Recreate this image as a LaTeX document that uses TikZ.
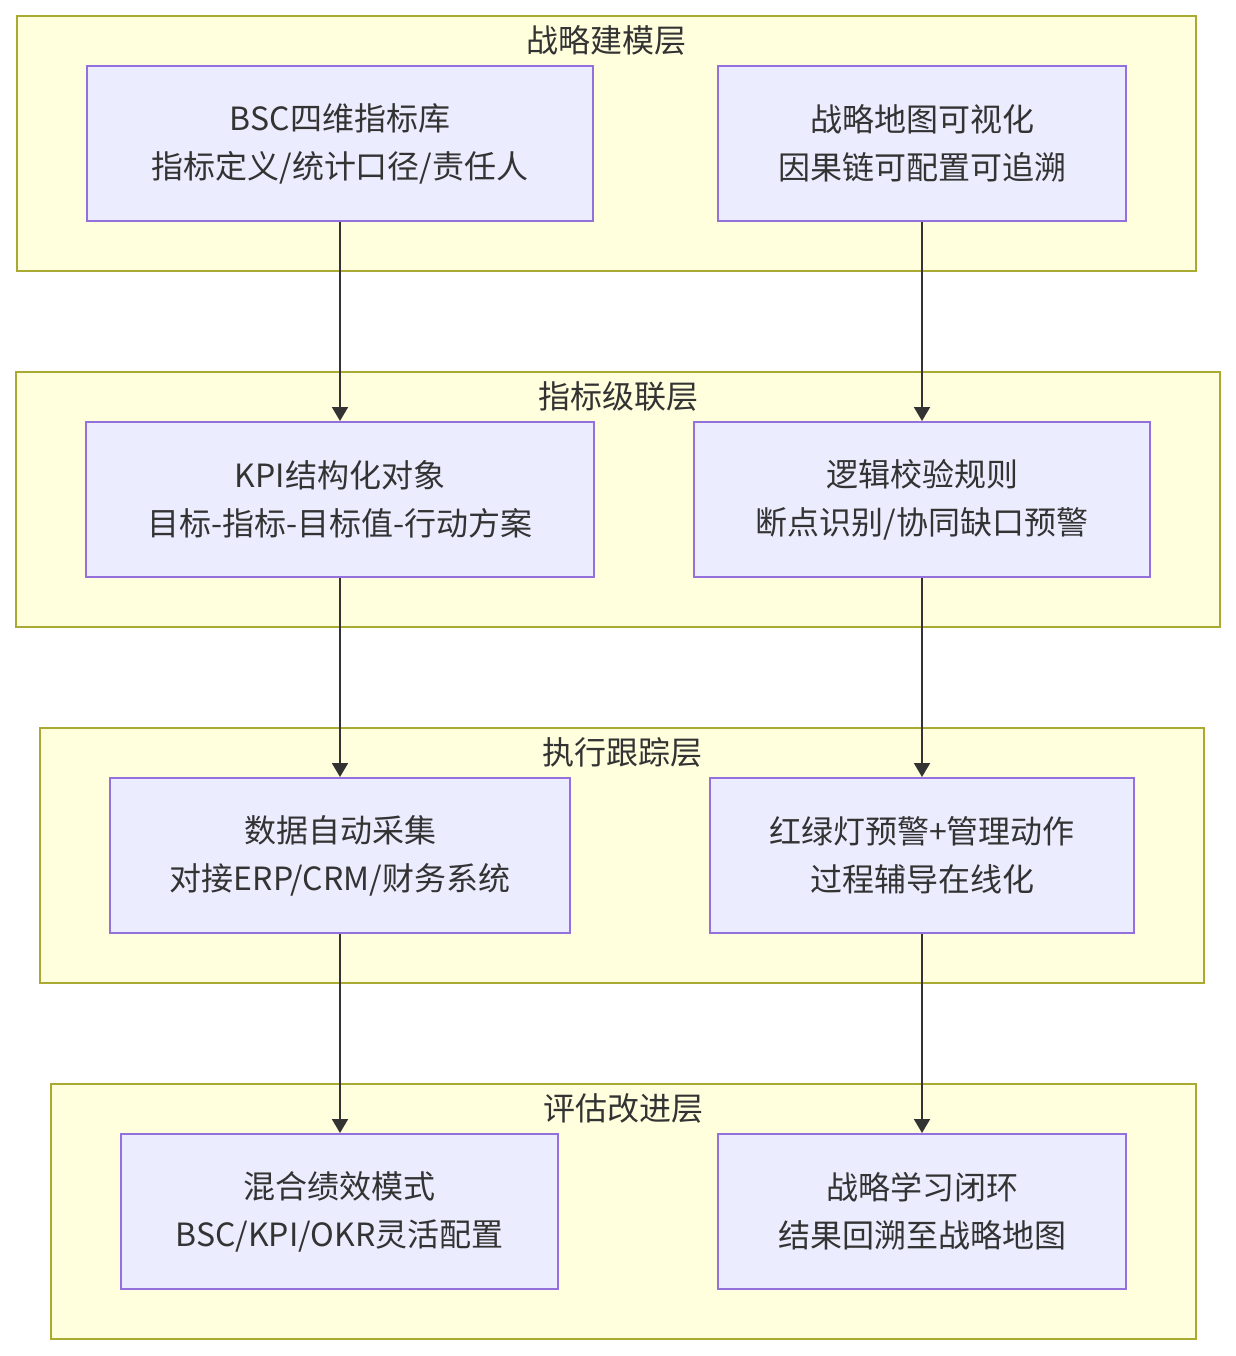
\documentclass[tikz,border=0pt]{standalone}
\usepackage{fontspec}
\setmainfont{Noto Sans CJK SC}
\usetikzlibrary{arrows.meta}
\definecolor{clfill}{HTML}{FFFFDE}
\definecolor{cldraw}{HTML}{AAAA33}
\definecolor{ndfill}{HTML}{ECECFF}
\definecolor{nddraw}{HTML}{9370DB}
\definecolor{txt}{HTML}{333333}
\tikzset{
  cluster/.style={draw=cldraw, fill=clfill, line width=1pt},
  cltitle/.style={text=txt, font=\fontsize{16pt}{20pt}\selectfont, inner sep=0pt, anchor=center},
  box/.style={draw=nddraw, fill=ndfill, line width=1pt, text=txt, align=center,
    font=\fontsize{16pt}{24pt}\selectfont, inner sep=0pt},
  flow/.style={draw=txt, line width=1pt, -{Triangle[length=7pt,width=8pt]}}
}
\newcommand{\mkbox}[6]{% name, x1, y1, x2, y2, text
  \node[box, minimum width={(#4-#2)*0.5pt}, minimum height={(#5-#3)*0.5pt}] (#1) at ({(#2+#4)/2},{(#3+#5)/2}) {#6};}
\begin{document}
\begin{tikzpicture}[x=0.5pt,y=-0.5pt]
\useasboundingbox (0,0) rectangle (1236,1356);
% clusters
\draw[cluster] (17,16) rectangle (1196,271);
\node[cltitle] (t1) at (606,40) {战略建模层};
\draw[cluster] (16,372) rectangle (1220,627);
\node[cltitle] (t2) at (618,396) {指标级联层};
\draw[cluster] (40,728) rectangle (1204,983);
\node[cltitle] (t3) at (622,752) {执行跟踪层};
\draw[cluster] (51,1084) rectangle (1196,1339);
\node[cltitle] (t4) at (623,1108) {评估改进层};
% nodes
\mkbox{a}{87}{66}{593}{221}{BSC四维指标库\\指标定义/统计口径/责任人}
\mkbox{b}{718}{66}{1126}{221}{战略地图可视化\\因果链可配置可追溯}
\mkbox{c}{86}{422}{594}{577}{KPI结构化对象\\目标-指标-目标值-行动方案}
\mkbox{d}{694}{422}{1150}{577}{逻辑校验规则\\断点识别/协同缺口预警}
\mkbox{e}{110}{778}{570}{933}{数据自动采集\\对接ERP/CRM/财务系统}
\mkbox{f}{710}{778}{1134}{933}{红绿灯预警+管理动作\\过程辅导在线化}
\mkbox{g}{121}{1134}{558}{1289}{混合绩效模式\\BSC/KPI/OKR灵活配置}
\mkbox{h}{718}{1134}{1126}{1289}{战略学习闭环\\结果回溯至战略地图}
% arrows
\draw[flow] (a.south -| 340,0) -- (c.north -| 340,0);
\draw[flow] (c.south -| 340,0) -- (e.north -| 340,0);
\draw[flow] (e.south -| 340,0) -- (g.north -| 340,0);
\draw[flow] (b.south -| 922,0) -- (d.north -| 922,0);
\draw[flow] (d.south -| 922,0) -- (f.north -| 922,0);
\draw[flow] (f.south -| 922,0) -- (h.north -| 922,0);
\end{tikzpicture}
\end{document}
